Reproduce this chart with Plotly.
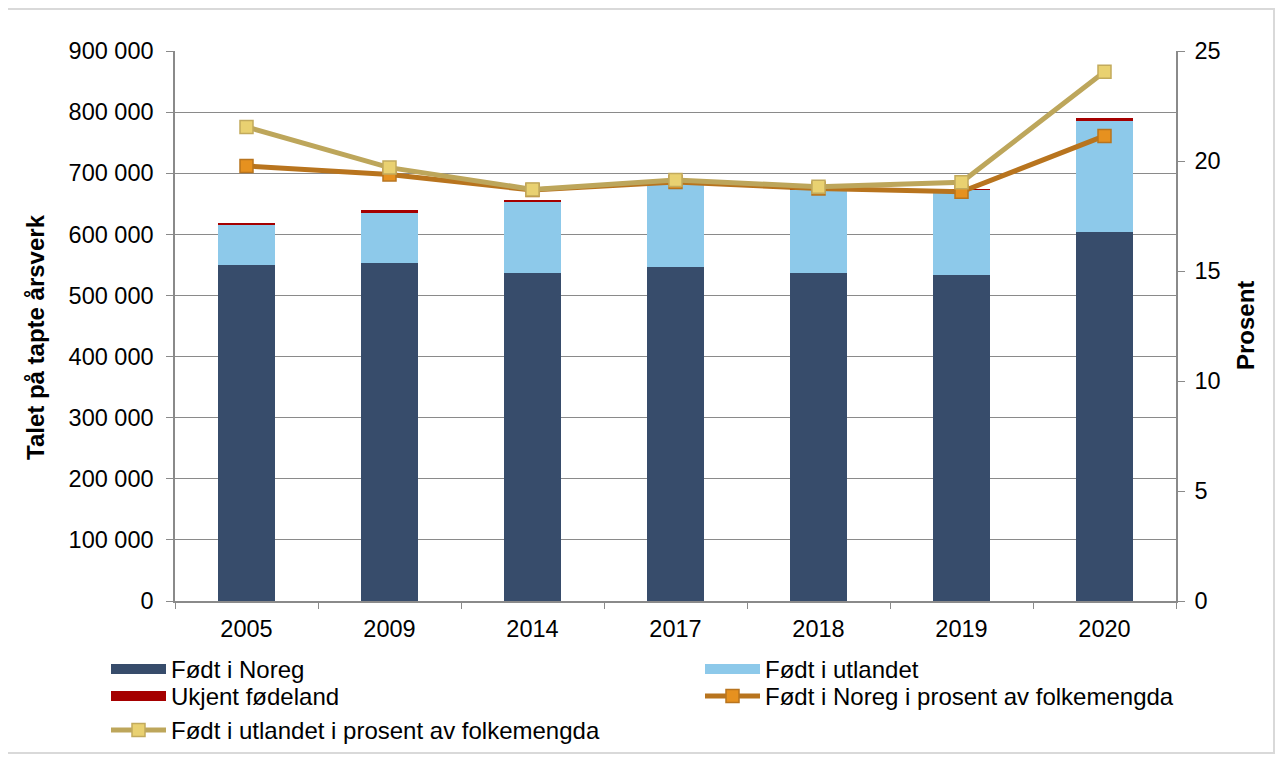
import plotly.graph_objects as go

years = ["2005", "2009", "2014", "2017", "2018", "2019", "2020"]
fodt_noreg = [549800, 552600, 537200, 547000, 536200, 533500, 604300]
fodt_utlandet = [66300, 82800, 115200, 135400, 136400, 139100, 181200]
ukjent = [2500, 4400, 4300, 1500, 1500, 1500, 4400]
pct_noreg = [19.77, 19.39, 18.68, 19.05, 18.75, 18.60, 21.14]
pct_utlandet = [21.55, 19.70, 18.71, 19.14, 18.83, 19.03, 24.06]

FONT = "Liberation Sans, Arial, sans-serif"
FS = 23.5
FL = 24
GRID = "#8a8a8a"
C_NOREG = "#374C6B"
C_UTL = "#8DC9EA"
C_UKJ = "#A50000"

# page body has an 8px margin: figure origin is at screen (8, 8)
W, H = 1268, 747
L, T, PW, PH = 167, 43, 1001, 550


def px(sx):
    return (sx - 8 - L) / PW


def py(sy):
    return (T + PH - (sy - 8)) / PH


fig = go.Figure()
fig.add_trace(go.Bar(x=years, y=fodt_noreg, name="Født i Noreg", showlegend=False,
                     marker=dict(color=C_NOREG, line=dict(width=0)), width=0.4))
fig.add_trace(go.Bar(x=years, y=fodt_utlandet, name="Født i utlandet", showlegend=False,
                     marker=dict(color=C_UTL, line=dict(width=0)), width=0.4))
fig.add_trace(go.Bar(x=years, y=ukjent, name="Ukjent fødeland", showlegend=False,
                     marker=dict(color=C_UKJ, line=dict(width=0)), width=0.4))
# legend entries for the bars (wide rectangle symbols)
for nm, col, lg in [("Født i Noreg", C_NOREG, "legend"), ("Født i utlandet", C_UTL, "legend2"),
                    ("Ukjent fødeland", C_UKJ, "legend3")]:
    fig.add_trace(go.Scatter(x=[None], y=[None], name=nm, mode="lines", legend=lg,
                             line=dict(color=col, width=12), hoverinfo="skip"))
fig.add_trace(go.Scatter(x=years, y=pct_noreg, name="Født i Noreg i prosent av folkemengda",
                         yaxis="y2", mode="lines+markers", legend="legend4",
                         line=dict(color="#B8741E", width=5),
                         marker=dict(symbol="square", size=13, color="#E6911F",
                                     line=dict(color="#B8741E", width=1.5))))
fig.add_trace(go.Scatter(x=years, y=pct_utlandet, name="Født i utlandet i prosent av folkemengda",
                         yaxis="y2", mode="lines+markers", legend="legend5",
                         line=dict(color="#BDA65B", width=5),
                         marker=dict(symbol="square", size=13, color="#E9D171",
                                     line=dict(color="#C2AA5C", width=1.5))))


def legend_at(sx, row_center):
    sy = row_center - 23
    return dict(orientation="v", xref="container", yref="container",
                x=(sx - 8) / W, y=1 - (sy - 8) / H, xanchor="left", yanchor="top",
                traceorder="normal", font=dict(family=FONT, size=FL), itemwidth=55,
                bgcolor="rgba(0,0,0,0)", tracegroupgap=0)


fig.update_layout(
    width=W, height=H,
    margin=dict(l=L, r=W - L - PW, t=T, b=H - T - PH, autoexpand=False),
    paper_bgcolor="white", plot_bgcolor="white",
    barmode="stack",
    separators=", ",
    font=dict(family=FONT, size=FS, color="black"),
    showlegend=True,
    legend=legend_at(106, 670),
    legend2=legend_at(700, 670),
    legend3=legend_at(106, 697),
    legend4=legend_at(700, 697),
    legend5=legend_at(106, 731),
    xaxis=dict(type="category", showgrid=False, showline=True, linecolor=GRID, linewidth=1.5,
               ticks="outside", tickson="boundaries", ticklen=6, tickcolor=GRID,
               ticklabelstandoff=6,
               tickfont=dict(family=FONT, size=FS)),
    yaxis=dict(range=[0, 900000], dtick=100000, tickformat=",d",
               showgrid=True, gridcolor=GRID, gridwidth=1.3,
               showline=True, linecolor=GRID, linewidth=1.5,
               ticks="outside", ticklen=7, tickcolor=GRID, zeroline=False,
               ticklabelstandoff=8,
               tickfont=dict(family=FONT, size=FS)),
    yaxis2=dict(range=[0, 25], dtick=5, overlaying="y", side="right",
                showgrid=False, showline=True, linecolor=GRID, linewidth=1.5,
                ticks="outside", ticklen=7, tickcolor=GRID, zeroline=False,
                ticklabelstandoff=5,
                tickfont=dict(family=FONT, size=FS)),
    annotations=[
        dict(text="<b>Talet på tapte årsverk</b>", xref="paper", yref="paper",
             x=px(35), y=py(337), textangle=-90, showarrow=False,
             xanchor="center", yanchor="middle", font=dict(family=FONT, size=24)),
        dict(text="<b>Prosent</b>", xref="paper", yref="paper",
             x=px(1245), y=py(326), textangle=-90, showarrow=False,
             xanchor="center", yanchor="middle", font=dict(family=FONT, size=24)),
    ],
    shapes=[dict(type="rect", xref="paper", yref="paper",
                 x0=px(6), x1=px(1274), y0=py(753), y1=py(9),
                 line=dict(color="#d9d9d9", width=2), fillcolor="rgba(0,0,0,0)", layer="below")],
)

fig.write_html("out.html")
